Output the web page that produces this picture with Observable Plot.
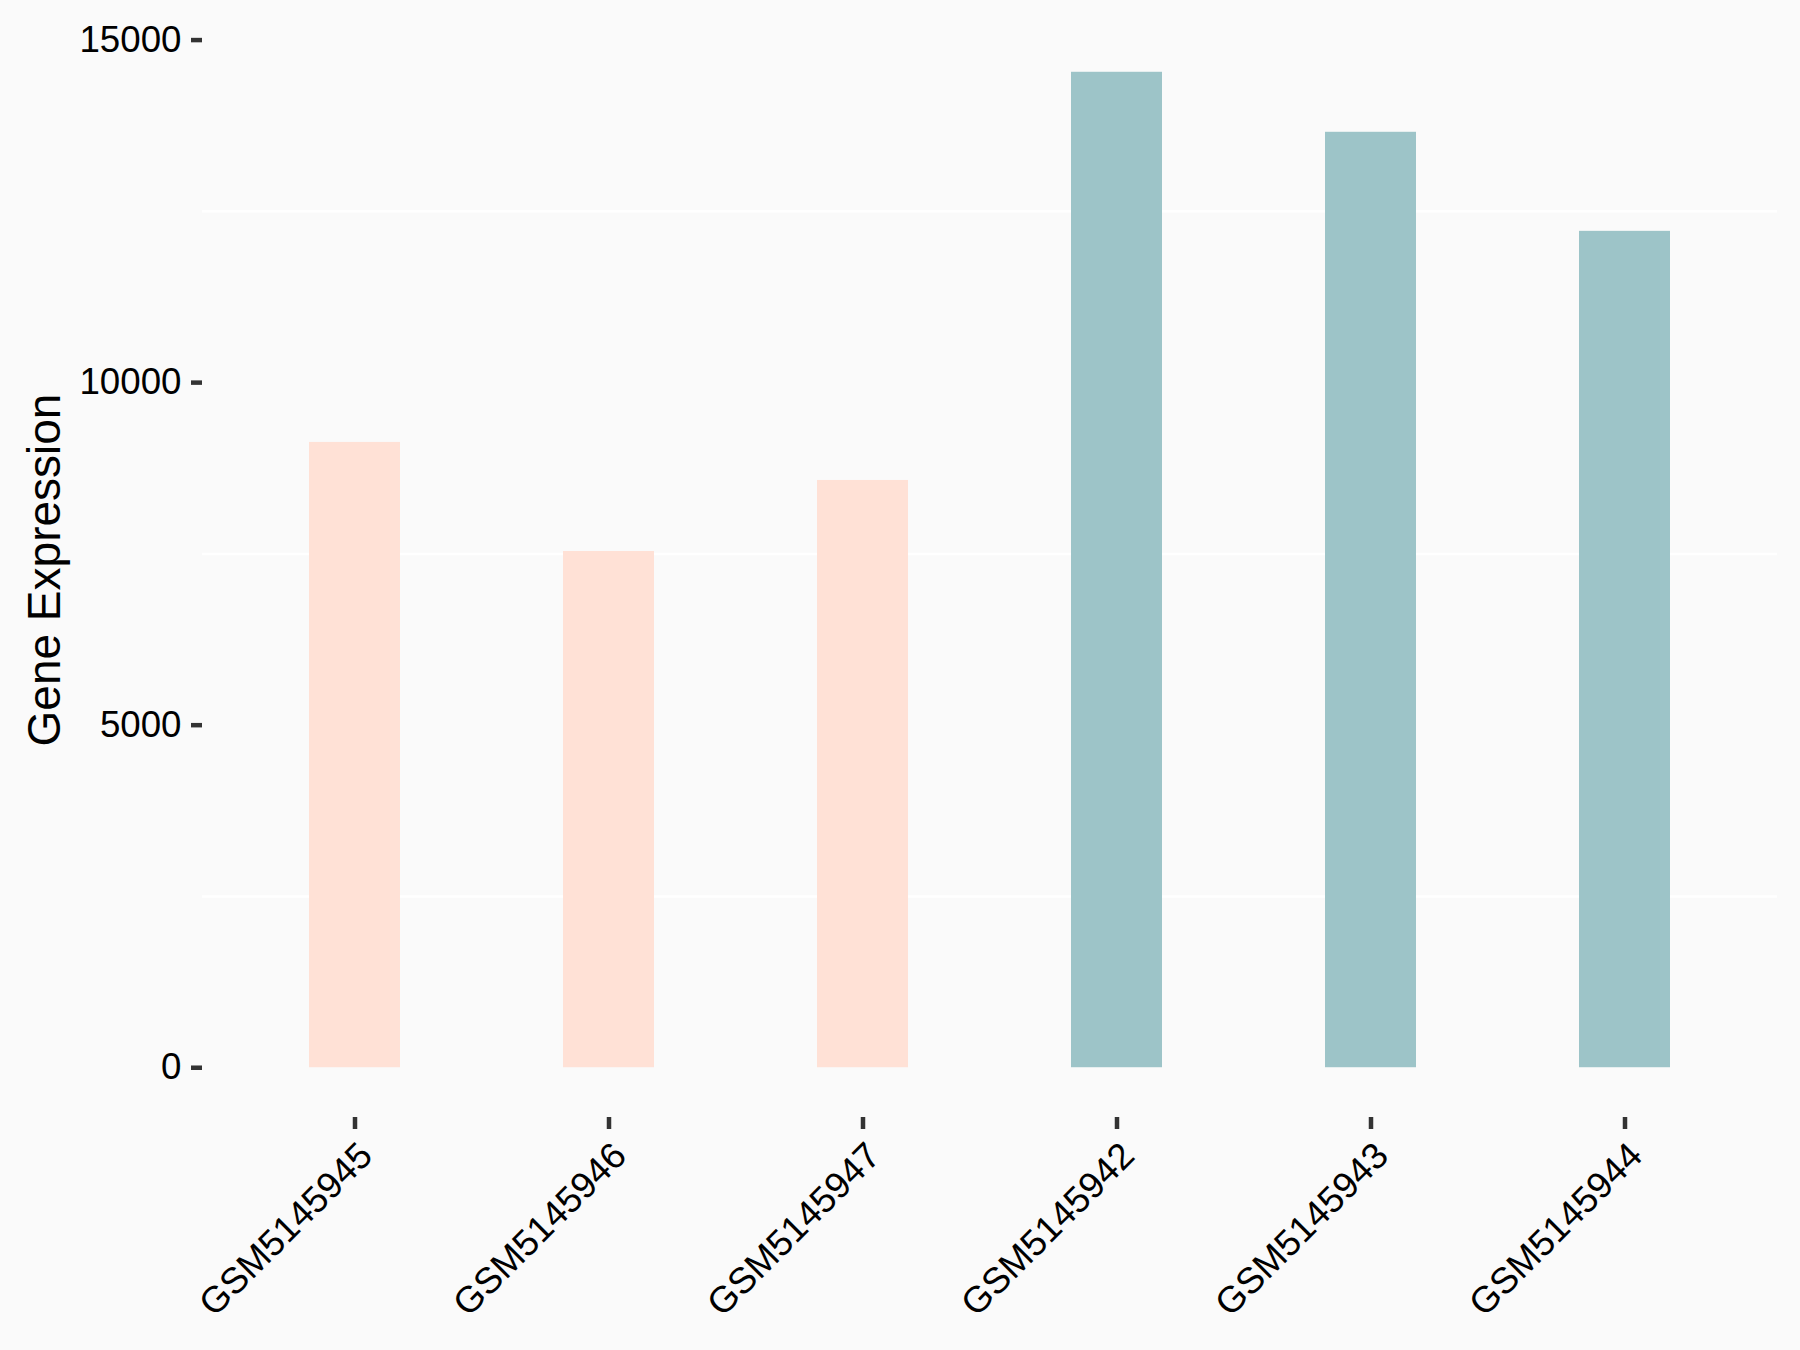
<!DOCTYPE html>
<html>
<head>
<meta charset="utf-8">
<script src="https://cdn.jsdelivr.net/npm/d3@7"></script>
<script src="https://cdn.jsdelivr.net/npm/@observablehq/plot@0.6"></script>
<style>
  html, body { margin: 0; padding: 0; background: #FAFAFA; }
  #chart svg { display: block; }
</style>
</head>
<body>
<div id="chart"></div>
<script>
const samples = ["GSM5145945", "GSM5145946", "GSM5145947", "GSM5145942", "GSM5145943", "GSM5145944"];
const groups = ["A", "A", "A", "B", "B", "B"];
const expression = [9127, 7535, 8572, 14530, 13654, 12208];
const yTicks = [0, 5000, 10000, 15000];
const minorGrid = [2500, 7500, 12500];
const yTitle = ["Gene Expression"];
const groupColors = {A: "#FFE1D6", B: "#9DC4C8"};

const data = samples.map((s, i) => ({sample: s, group: groups[i], value: expression[i]}));
const ymax = d3.max(expression);

const chart = Plot.plot({
  width: 1800,
  height: 1350,
  marginLeft: 202,
  marginRight: 23,
  marginTop: 22,
  marginBottom: 233,
  style: {background: "#FAFAFA", fontFamily: "'Liberation Sans', Arial, sans-serif", color: "#000"},
  x: {domain: samples, paddingInner: 0.642, paddingOuter: 0.421, label: null},
  y: {domain: [-ymax * 0.05, ymax * 1.05], label: null},
  marks: [
    Plot.gridY(minorGrid, {stroke: "#FFFFFF", strokeOpacity: 1, strokeWidth: 2.5}),
    Plot.barY(data, {x: "sample", y1: 0, y2: "value", fill: d => groupColors[d.group]}),
    Plot.axisY({
      ticks: yTicks, tickSize: 11, tickPadding: 10, stroke: "#333", strokeWidth: 4.5,
      tickFormat: d => String(d), fontSize: 36.7, fill: "#000", label: null
    }),
    Plot.axisX({
      tickSize: 12, stroke: "#333", strokeWidth: 4.5, text: null, label: null
    }),
    Plot.text(samples, {
      x: d => d, frameAnchor: "bottom", rotate: -45, textAnchor: "end", lineAnchor: "top",
      dx: 1, dy: 22, fontSize: 36.7, fill: "#000"
    }),
    Plot.text(yTitle, {
      frameAnchor: "left", rotate: -90, textAnchor: "middle", lineAnchor: "middle",
      dx: -157, fontSize: 46, fill: "#000"
    })
  ]
});
document.getElementById("chart").appendChild(chart);
</script>
</body>
</html>
